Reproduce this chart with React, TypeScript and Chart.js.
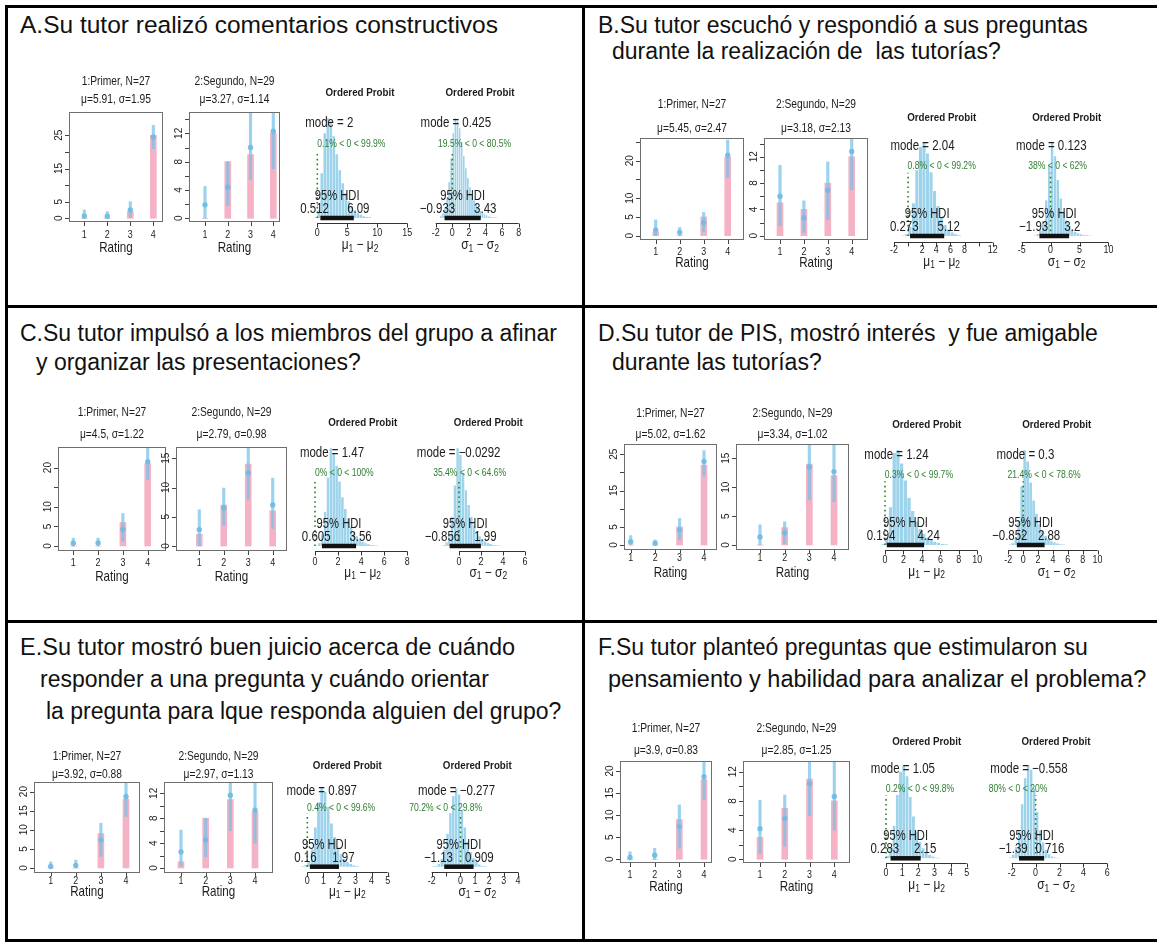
import React, { useEffect, useRef } from "react";
import { Chart, registerables } from "chart.js";

Chart.register(...registerables);

/* ====================== DATA ====================== */
const RATINGS = [1, 2, 3, 4];

// Panel A
const countsA1 = [0, 0, 2, 25];
const ppLowA1 = [0, 0, 0.3, 21];
const ppMidA1 = [0.7, 0.6, 2.5, 24.5];
const ppHighA1 = [2.5, 2, 5, 28];
const countsA2 = [0, 8, 9, 12];
const ppLowA2 = [0, 1.8, 5.5, 7];
const ppMidA2 = [1.9, 4.4, 10, 12.3];
const ppHighA2 = [4.5, 8, 16, 16];

// Panel B
const countsB1 = [1, 0, 5, 21];
const ppLowB1 = [0, 0, 1, 15.5];
const ppMidB1 = [1.5, 0.9, 3.5, 21.5];
const ppHighB1 = [4.2, 2.2, 6.2, 25.5];
const countsB2 = [5, 4, 8, 12];
const ppLowB2 = [1.5, 0.5, 2.5, 7];
const ppMidB2 = [6, 2.7, 6.9, 12.8];
const ppHighB2 = [10.7, 5.3, 11.2, 16];

// Panel C
const countsC1 = [0, 0, 6, 21];
const ppLowC1 = [0, 0, 1.2, 17];
const ppMidC1 = [0.7, 0.8, 4.2, 21.5];
const ppHighC1 = [2, 2, 8.3, 25];
const countsC2 = [2, 7, 14, 6];
const ppLowC2 = [0, 3.5, 8, 3];
const ppMidC2 = [2.8, 6.5, 12.5, 7];
const ppHighC2 = [6.2, 9.9, 17.5, 11.6];

// Panel D
const countsD1 = [0, 0, 5, 22];
const ppLowD1 = [0, 0, 1.5, 19];
const ppMidD1 = [0.9, 0.5, 4.1, 23];
const ppHighD1 = [2.6, 1.4, 7.3, 26];
const countsD2 = [0, 3, 14, 12];
const ppLowD2 = [0, 0.3, 7.8, 7.5];
const ppMidD2 = [1.4, 2.1, 13.5, 12.7];
const ppHighD2 = [3.5, 4, 18, 18];

// Panel E
const countsE1 = [0, 0, 9, 18];
const ppLowE1 = [0, 0, 3, 13.5];
const ppMidE1 = [0.4, 0.7, 7.3, 18.7];
const ppHighE1 = [1.6, 2.1, 11.7, 23];
const countsE2 = [1, 8, 11, 9];
const ppLowE2 = [0.3, 1.8, 6, 4];
const ppMidE2 = [2.6, 4.5, 11.7, 9.3];
const ppHighE2 = [6.1, 8, 14, 14];

// Panel F
const countsF1 = [0, 0, 9, 18];
const ppLowF1 = [0, 0, 2.5, 13.5];
const ppMidF1 = [0.4, 0.9, 7.4, 18.7];
const ppHighF1 = [1.7, 2.5, 12.3, 22.5];
const countsF2 = [3, 7, 11, 8];
const ppLowF2 = [0.8, 1.8, 6, 4];
const ppMidF2 = [4.2, 5.6, 10.4, 8.6];
const ppHighF2 = [8.1, 8.8, 14, 14];

// group summaries [mu1, sigma1, mu2, sigma2]
const statsA = [5.91, 1.95, 3.27, 1.14];
const statsB = [5.45, 2.47, 3.18, 2.13];
const statsC = [4.5, 1.22, 2.79, 0.98];
const statsD = [5.02, 1.62, 3.34, 1.02];
const statsE = [3.92, 0.88, 2.97, 1.13];
const statsF = [3.9, 0.83, 2.85, 1.25];

// y tick values / labelled ticks for the count plots
const yTicks25 = [0, 5, 10, 15, 20, 25];
const yTicks20 = [0, 5, 10, 15, 20];
const yTicks15 = [0, 5, 10, 15];
const yTicks14 = [0, 2, 4, 6, 8, 10, 12, 14];
const yTicks12 = [0, 2, 4, 6, 8, 10, 12];

// posterior histograms: relative heights per bin
const histA3 = [0.01, 0.08, 0.45, 0.85, 1.0, 0.97, 0.82, 0.64, 0.48, 0.35, 0.25, 0.17, 0.12, 0.08, 0.05, 0.035, 0.02, 0.012, 0.006];
const histA4 = [0.02, 0.05, 0.1, 0.2, 0.36, 0.6, 0.85, 1.0, 0.97, 0.9, 0.76, 0.62, 0.5, 0.4, 0.31, 0.24, 0.18, 0.14, 0.1, 0.075, 0.055, 0.04, 0.03, 0.02, 0.014, 0.01, 0.006, 0.004];
const histB3 = [0.005, 0.02, 0.1, 0.35, 0.7, 0.95, 1.0, 0.88, 0.68, 0.48, 0.32, 0.2, 0.12, 0.07, 0.04, 0.02, 0.01];
const histB4 = [0.005, 0.02, 0.06, 0.16, 0.38, 0.75, 1.0, 0.85, 0.6, 0.4, 0.26, 0.17, 0.11, 0.07, 0.045, 0.03, 0.02, 0.012, 0.007, 0.004];
const histC3 = [0.005, 0.03, 0.12, 0.35, 0.7, 1.0, 0.95, 0.82, 0.66, 0.5, 0.38, 0.28, 0.2, 0.14, 0.1, 0.068, 0.046, 0.03, 0.02, 0.013, 0.008, 0.005];
const histC4 = [0.01, 0.04, 0.12, 0.3, 0.62, 1.0, 0.93, 0.75, 0.57, 0.42, 0.3, 0.21, 0.15, 0.1, 0.07, 0.048, 0.032, 0.021, 0.013, 0.008, 0.005, 0.003];
const histD3 = [0.01, 0.08, 0.4, 0.97, 1.0, 0.86, 0.68, 0.5, 0.36, 0.25, 0.17, 0.12, 0.08, 0.055, 0.035, 0.022, 0.013, 0.007];
const histD4 = [0.005, 0.02, 0.08, 0.25, 0.62, 1.0, 0.88, 0.66, 0.47, 0.33, 0.22, 0.15, 0.1, 0.065, 0.042, 0.027, 0.017, 0.01, 0.006];
const histE3 = [0.005, 0.02, 0.07, 0.22, 0.5, 0.82, 1.0, 0.95, 0.76, 0.55, 0.38, 0.25, 0.16, 0.1, 0.06, 0.035, 0.02, 0.01];
const histE4 = [0.005, 0.015, 0.04, 0.1, 0.22, 0.42, 0.68, 0.9, 1.0, 0.92, 0.72, 0.5, 0.32, 0.19, 0.11, 0.06, 0.03, 0.015, 0.007];
const histF3 = [0.005, 0.03, 0.12, 0.35, 0.68, 0.93, 1.0, 0.88, 0.66, 0.45, 0.29, 0.18, 0.11, 0.065, 0.038, 0.021, 0.011, 0.006];
const histF4 = [0.01, 0.04, 0.12, 0.3, 0.58, 0.86, 1.0, 0.95, 0.75, 0.5, 0.3, 0.17, 0.09, 0.045, 0.022, 0.01, 0.005];

// posterior summaries: [mode, hdiLow, hdiHigh, percent below 0]
const postA3 = [2, 0.512, 6.09, 0.1];
const postA4 = [0.425, -0.933, 3.43, 19.5];
const postB3 = [2.04, 0.273, 5.12, 0.8];
const postB4 = [0.123, -1.93, 3.2, 38];
const postC3 = [1.47, 0.605, 3.56, 0];
const postC4 = [-0.0292, -0.856, 1.99, 35.4];
const postD3 = [1.24, 0.194, 4.24, 0.3];
const postD4 = [0.3, -0.852, 2.88, 21.4];
const postE3 = [0.897, 0.16, 1.97, 0.4];
const postE4 = [-0.277, -1.13, 0.909, 70.2];
const postF3 = [1.05, 0.283, 2.15, 0.2];
const postF4 = [-0.558, -1.39, 0.716, 80];

// histogram axis ticks / labels
const ticksA3 = [0, 5, 10, 15];
const ticksA4 = [-2, 0, 2, 4, 6, 8];
const ticksB3 = [-2, 0, 2, 4, 6, 8, 10, 12];
const labelsB3 = [-2, 2, 4, 6, 8, 12];
const ticksB4 = [-5, 0, 5, 10];
const ticksC3 = [0, 2, 4, 6, 8];
const ticksC4 = [0, 2, 4, 6];
const ticksD3 = [0, 2, 4, 6, 8, 10];
const ticksD4 = [-2, 0, 2, 4, 6, 8, 10];
const ticksE3 = [0, 1, 2, 3, 4, 5];
const ticksE4 = [-2, -1, 0, 1, 2, 3, 4];
const labelsE4 = [-2, 0, 1, 2, 3, 4];
const ticksF3 = [0, 1, 2, 3, 4, 5];
const ticksF4 = [-2, 0, 2, 4, 6];

const PANEL_TITLES = [
  { x: 20, y: 34, size: 24.5, text: "A.Su tutor realizó comentarios constructivos" },
  { x: 598, y: 34, size: 23, text: "B.Su tutor escuchó y respondió a sus preguntas" },
  { x: 612, y: 60, size: 23, text: "durante la realización de  las tutorías?" },
  { x: 20, y: 342, size: 23, text: "C.Su tutor impulsó a los miembros del grupo a afinar" },
  { x: 36, y: 371, size: 23, text: "y organizar las presentaciones?" },
  { x: 598, y: 342, size: 23, text: "D.Su tutor de PIS, mostró interés  y fue amigable" },
  { x: 612, y: 371, size: 23, text: "durante las tutorías?" },
  { x: 20, y: 656, size: 23.5, text: "E.Su tutor mostró buen juicio acerca de cuándo" },
  { x: 40, y: 688, size: 23, text: "responder a una pregunta y cuándo orientar" },
  { x: 46, y: 720, size: 23, text: "la pregunta para lque responda alguien del grupo?" },
  { x: 598, y: 656, size: 23, text: "F.Su tutor planteó preguntas que estimularon su" },
  { x: 608, y: 688, size: 23.5, text: "pensamiento y habilidad para analizar el problema?" },
];

/* ====================== STYLE ====================== */
const FONT = "'Liberation Sans', Arial, Helvetica, sans-serif";
const PINK = "rgb(245,178,196)";
const BLUE_LINE = "rgba(118,192,230,0.72)";
const BLUE_DOT = "rgba(112,188,228,0.92)";
const HIST_FILL = "rgb(158,211,236)";
const GREEN = "#2f7d2f";
const INK = "#1c1c1c";
const BOX = "#6e6e6e";

/* ====================== LAYOUT ====================== */
type BarSpec = {
  x0: number; x1: number; y0: number; y1: number;
  px1: number; px4: number; p0: number; ppu: number;
  t1Y: number; t2Y: number; tickY: number; labY: number; tickLen: number;
  yTicks: number[]; yLabels: number[];
  title: string; mu: number; sd: number;
  counts: number[]; lo: number[]; mid: number[]; hi: number[];
};

type HistSpec = {
  cx: number; titleY: number; t0px: number; ppu: number;
  base: number; H: number; axisY: number; tickLabY: number; axLabY: number;
  ticks: number[]; tickLabels: number[];
  start: number; width: number; heights: number[];
  post: number[]; sym: string;
};

const G1 = "1:Primer, N=27";
const G2 = "2:Segundo, N=29";

const BAR_SPECS: BarSpec[] = [
  { x0: 69, x1: 163, y0: 112, y1: 222, px1: 84.3, px4: 153.3, p0: 218.3, ppu: 3.32, t1Y: 82, t2Y: 100, tickY: 235, labY: 248, tickLen: 4, yTicks: yTicks25, yLabels: [0, 5, 15, 25], title: G1, mu: statsA[0], sd: statsA[1], counts: countsA1, lo: ppLowA1, mid: ppMidA1, hi: ppHighA1 },
  { x0: 189, x1: 280, y0: 112, y1: 222, px1: 205, px4: 273.3, p0: 218.3, ppu: 7.08, t1Y: 82, t2Y: 100, tickY: 235, labY: 248, tickLen: 4, yTicks: yTicks14, yLabels: [0, 4, 8, 12], title: G2, mu: statsA[2], sd: statsA[3], counts: countsA2, lo: ppLowA2, mid: ppMidA2, hi: ppHighA2 },
  { x0: 640, x1: 744, y0: 138, y1: 240, px1: 655.7, px4: 727.7, p0: 235.7, ppu: 3.75, t1Y: 105, t2Y: 129, tickY: 252, labY: 263, tickLen: 4, yTicks: yTicks25, yLabels: [0, 5, 10, 20], title: G1, mu: statsB[0], sd: statsB[1], counts: countsB1, lo: ppLowB1, mid: ppMidB1, hi: ppHighB1 },
  { x0: 764, x1: 868, y0: 138, y1: 240, px1: 780, px4: 851.7, p0: 235.7, ppu: 6.58, t1Y: 105, t2Y: 129, tickY: 252, labY: 263, tickLen: 4, yTicks: yTicks14, yLabels: [0, 4, 8, 12], title: G2, mu: statsB[2], sd: statsB[3], counts: countsB2, lo: ppLowB2, mid: ppMidB2, hi: ppHighB2 },
  { x0: 58, x1: 166, y0: 447, y1: 551, px1: 73.3, px4: 147.7, p0: 546, ppu: 3.92, t1Y: 413, t2Y: 435, tickY: 563, labY: 577, tickLen: 4, yTicks: yTicks20, yLabels: [0, 5, 10, 20], title: G1, mu: statsC[0], sd: statsC[1], counts: countsC1, lo: ppLowC1, mid: ppMidC1, hi: ppHighC1 },
  { x0: 176, x1: 287, y0: 447, y1: 551, px1: 199.3, px4: 272.7, p0: 546, ppu: 5.85, t1Y: 413, t2Y: 435, tickY: 563, labY: 577, tickLen: 4, yTicks: yTicks15, yLabels: yTicks15, title: G2, mu: statsC[2], sd: statsC[3], counts: countsC2, lo: ppLowC2, mid: ppMidC2, hi: ppHighC2 },
  { x0: 624, x1: 717, y0: 444, y1: 550, px1: 630.7, px4: 704, p0: 545, ppu: 3.63, t1Y: 414, t2Y: 435, tickY: 558, labY: 573, tickLen: 3, yTicks: yTicks25, yLabels: [0, 5, 15, 25], title: G1, mu: statsD[0], sd: statsD[1], counts: countsD1, lo: ppLowD1, mid: ppMidD1, hi: ppHighD1 },
  { x0: 736, x1: 849, y0: 444, y1: 550, px1: 760, px4: 834, p0: 545, ppu: 5.78, t1Y: 414, t2Y: 435, tickY: 558, labY: 573, tickLen: 3, yTicks: yTicks15, yLabels: yTicks15, title: G2, mu: statsD[2], sd: statsD[3], counts: countsD2, lo: ppLowD2, mid: ppMidD2, hi: ppHighD2 },
  { x0: 34, x1: 140, y0: 782, y1: 873, px1: 50.7, px4: 126, p0: 868, ppu: 3.82, t1Y: 757, t2Y: 775, tickY: 881, labY: 892, tickLen: 3, yTicks: yTicks20, yLabels: yTicks20, title: G1, mu: statsE[0], sd: statsE[1], counts: countsE1, lo: ppLowE1, mid: ppMidE1, hi: ppHighE1 },
  { x0: 164, x1: 273, y0: 782, y1: 873, px1: 181, px4: 255, p0: 868, ppu: 6.22, t1Y: 757, t2Y: 775, tickY: 881, labY: 892, tickLen: 3, yTicks: yTicks12, yLabels: [0, 4, 8, 12], title: G2, mu: statsE[2], sd: statsE[3], counts: countsE2, lo: ppLowE2, mid: ppMidE2, hi: ppHighE2 },
  { x0: 620, x1: 712, y0: 761, y1: 863, px1: 630, px4: 704, p0: 859.3, ppu: 4.42, t1Y: 729, t2Y: 751, tickY: 875, labY: 887, tickLen: 4, yTicks: yTicks20, yLabels: yTicks20, title: G1, mu: statsF[0], sd: statsF[1], counts: countsF1, lo: ppLowF1, mid: ppMidF1, hi: ppHighF1 },
  { x0: 743, x1: 850, y0: 761, y1: 863, px1: 760, px4: 834.3, p0: 859.3, ppu: 7.3, t1Y: 729, t2Y: 751, tickY: 875, labY: 887, tickLen: 4, yTicks: yTicks12, yLabels: [0, 4, 8, 12], title: G2, mu: statsF[2], sd: statsF[3], counts: countsF2, lo: ppLowF2, mid: ppMidF2, hi: ppHighF2 },
];

const MU = "\u03bc";
const SIG = "\u03c3";

const HIST_SPECS: HistSpec[] = [
  { cx: 360, titleY: 93, t0px: 317.3, ppu: 6, base: 218, H: 100, axisY: 223, tickLabY: 233, axLabY: 245, ticks: ticksA3, tickLabels: ticksA3, start: -0.5, width: 0.5, heights: histA3, post: postA3, sym: MU },
  { cx: 480, titleY: 93, t0px: 435.7, ppu: 8.3, base: 218, H: 100, axisY: 223, tickLabY: 233, axLabY: 245, ticks: ticksA4, tickLabels: ticksA4, start: -1.5, width: 0.25, heights: histA4, post: postA4, sym: SIG },
  { cx: 941.7, titleY: 118, t0px: 894, ppu: 7.05, base: 236, H: 94, axisY: 241.7, tickLabY: 250, axLabY: 261.7, ticks: ticksB3, tickLabels: labelsB3, start: -1, width: 0.5, heights: histB3, post: postB3, sym: MU },
  { cx: 1066.7, titleY: 118, t0px: 1021.7, ppu: 5.78, base: 236, H: 94, axisY: 241.7, tickLabY: 250, axLabY: 261.7, ticks: ticksB4, tickLabels: ticksB4, start: -3, width: 0.5, heights: histB4, post: postB4, sym: SIG },
  { cx: 362.7, titleY: 423.3, t0px: 315, ppu: 11.54, base: 546, H: 98, axisY: 550.7, tickLabY: 561.7, axLabY: 572.7, ticks: ticksC3, tickLabels: ticksC3, start: 0, width: 0.25, heights: histC3, post: postC3, sym: MU },
  { cx: 488.3, titleY: 423.3, t0px: 459, ppu: 11, base: 546, H: 98, axisY: 550.7, tickLabY: 561.7, axLabY: 572.7, ticks: ticksC4, tickLabels: ticksC4, start: -1.5, width: 0.25, heights: histC4, post: postC4, sym: SIG },
  { cx: 926.7, titleY: 425, t0px: 885, ppu: 9.23, base: 545, H: 95, axisY: 550, tickLabY: 560, axLabY: 571.7, ticks: ticksD3, tickLabels: ticksD3, start: -0.4, width: 0.4, heights: histD3, post: postD3, sym: MU },
  { cx: 1056.7, titleY: 425, t0px: 1008.3, ppu: 7.44, base: 545, H: 95, axisY: 550, tickLabY: 560, axLabY: 571.7, ticks: ticksD4, tickLabels: ticksD4, start: -2, width: 0.4, heights: histD4, post: postD4, sym: SIG },
  { cx: 347.3, titleY: 766, t0px: 307.3, ppu: 16.07, base: 866.7, H: 78.5, axisY: 872.3, tickLabY: 880.7, axLabY: 891.7, ticks: ticksE3, tickLabels: ticksE3, start: -0.4, width: 0.2, heights: histE3, post: postE3, sym: MU },
  { cx: 477.3, titleY: 766, t0px: 431.7, ppu: 14.4, base: 866.7, H: 78.5, axisY: 872.3, tickLabY: 880.7, axLabY: 891.7, ticks: ticksE4, tickLabels: labelsE4, start: -2, width: 0.2, heights: histE4, post: postE4, sym: SIG },
  { cx: 926.7, titleY: 741.7, t0px: 886, ppu: 16.13, base: 858.3, H: 93, axisY: 863.3, tickLabY: 873.3, axLabY: 885, ticks: ticksF3, tickLabels: ticksF3, start: -0.2, width: 0.2, heights: histF3, post: postF3, sym: MU },
  { cx: 1056, titleY: 741.7, t0px: 1011.7, ppu: 11.95, base: 858.3, H: 93, axisY: 863.3, tickLabY: 873.3, axLabY: 885, ticks: ticksF4, tickLabels: ticksF4, start: -2.25, width: 0.25, heights: histF4, post: postF4, sym: SIG },
];

/* ====================== HELPERS ====================== */
function txt(
  ctx: CanvasRenderingContext2D, s: string, x: number, y: number, font: string,
  color: string, frac = 0.5, hs = 0.82, rot = 0, baseline: CanvasTextBaseline = "middle"
) {
  ctx.save();
  ctx.font = font;
  ctx.fillStyle = color;
  ctx.textBaseline = baseline;
  ctx.textAlign = "left";
  ctx.translate(x, y);
  if (rot) ctx.rotate(rot);
  ctx.scale(hs, 1);
  const w = ctx.measureText(s).width;
  ctx.fillText(s, -w * frac, 0);
  ctx.restore();
}

const fmtMath = (v: number) => (v < 0 ? "\u2212" : "") + String(Math.abs(v));
const fmtPct = (v: number) => String(+v.toFixed(1));

function drawAxisLabel(ctx: CanvasRenderingContext2D, sym: string, cx: number, cy: number) {
  const big = `14px ${FONT}`;
  const small = `10px ${FONT}`;
  const hs = 0.85;
  const parts: [string, string, number][] = [
    [sym, big, 0], ["1", small, 4], [" \u2212 ", big, 0], [sym, big, 0], ["2", small, 4],
  ];
  ctx.save();
  ctx.textBaseline = "middle";
  ctx.textAlign = "left";
  ctx.fillStyle = INK;
  const widths = parts.map((p) => { ctx.font = p[1]; return ctx.measureText(p[0]).width * hs; });
  const total = widths.reduce((a, b) => a + b, 0);
  let x = cx - total / 2;
  parts.forEach((p, i) => {
    ctx.save();
    ctx.font = p[1];
    ctx.translate(x, cy + p[2]);
    ctx.scale(hs, 1);
    ctx.fillText(p[0], 0, 0);
    ctx.restore();
    x += widths[i];
  });
  ctx.restore();
}

/* ====================== COUNT PLOTS ====================== */
function BarPlot({ spec }: { spec: BarSpec }) {
  const ref = useRef<HTMLCanvasElement>(null);
  const L = Math.round(spec.x0 - 30);
  const R = Math.round(spec.x1 + 8);
  const T = Math.round(spec.t1Y - 12);
  const B = Math.round(spec.labY + 12);
  const W = R - L;
  const Hh = B - T;
  useEffect(() => {
    const canvas = ref.current;
    if (!canvas) return;
    const s = spec;
    const ppx = (s.px4 - s.px1) / 3;
    const xmin = 1 - (s.px1 - s.x0) / ppx;
    const xmax = 4 + (s.x1 - s.px4) / ppx;
    const ymin = -(s.y1 - s.p0) / s.ppu;
    const ymax = (s.p0 - s.y0) / s.ppu;
    const decor = {
      id: "rdecor",
      afterDatasetsDraw(chart: any) {
        const ctx: CanvasRenderingContext2D = chart.ctx;
        const a = chart.chartArea;
        const xs = chart.scales.x;
        const ys = chart.scales.y;
        ctx.save();
        ctx.strokeStyle = BOX;
        ctx.lineWidth = 1;
        ctx.strokeRect(a.left + 0.5, a.top + 0.5, a.right - a.left - 1, a.bottom - a.top - 1);
        ctx.strokeStyle = "#444";
        ctx.beginPath();
        RATINGS.forEach((r) => {
          const px = Math.round(xs.getPixelForValue(r)) + 0.5;
          ctx.moveTo(px, a.bottom);
          ctx.lineTo(px, a.bottom + s.tickLen);
        });
        s.yTicks.forEach((v) => {
          const py = Math.round(ys.getPixelForValue(v)) + 0.5;
          ctx.moveTo(a.left - 4, py);
          ctx.lineTo(a.left, py);
        });
        ctx.stroke();
        ctx.restore();
        RATINGS.forEach((r) =>
          txt(ctx, String(r), xs.getPixelForValue(r), s.tickY - T, `10.5px ${FONT}`, INK, 0.5, 0.85)
        );
        s.yLabels.forEach((v) =>
          txt(ctx, String(v), a.left - 10, ys.getPixelForValue(v), `10px ${FONT}`, INK, 0.5, 1, -Math.PI / 2)
        );
        const cx = (a.left + a.right) / 2;
        txt(ctx, s.title, cx, s.t1Y - T, `12.5px ${FONT}`, INK, 0.5, 0.82);
        txt(ctx, `${MU}=${s.mu}, ${SIG}=${s.sd}`, cx, s.t2Y - T, `12.5px ${FONT}`, INK, 0.5, 0.82);
        txt(ctx, "Rating", cx, s.labY - T, `14.5px ${FONT}`, INK, 0.5, 0.8);
      },
    };
    const chart = new Chart(canvas, {
      type: "bar",
      data: {
        datasets: [
          {
            type: "bar",
            label: "datos",
            data: RATINGS.map((r, i) => ({ x: r, y: s.counts[i] })) as any,
            backgroundColor: PINK,
            barThickness: 6,
            grouped: false,
            order: 3,
          } as any,
          {
            type: "bar",
            label: "predicción",
            data: RATINGS.map((r, i) => ({ x: r, y: [s.lo[i], s.hi[i]] })) as any,
            backgroundColor: BLUE_LINE,
            barThickness: 2.5,
            grouped: false,
            order: 2,
          } as any,
          {
            type: "scatter",
            label: "media",
            data: RATINGS.map((r, i) => ({ x: r, y: s.mid[i] })),
            backgroundColor: BLUE_DOT,
            borderWidth: 0,
            pointRadius: 2.7,
            order: 1,
          } as any,
        ],
      },
      options: {
        responsive: false,
        animation: false,
        events: [],
        layout: { padding: { left: s.x0 - L, right: R - s.x1, top: s.y0 - T, bottom: B - s.y1 } },
        plugins: { legend: { display: false }, tooltip: { enabled: false } },
        scales: {
          x: { type: "linear", min: xmin, max: xmax, offset: false, display: false },
          y: { type: "linear", min: ymin, max: ymax, display: false },
        },
      } as any,
      plugins: [decor],
    });
    return () => chart.destroy();
  }, []);
  return (
    <canvas
      ref={ref}
      width={W}
      height={Hh}
      style={{ position: "absolute", left: L, top: T, width: W, height: Hh }}
    />
  );
}

/* ====================== POSTERIOR HISTOGRAMS ====================== */
function HistPlot({ spec }: { spec: HistSpec }) {
  const ref = useRef<HTMLCanvasElement>(null);
  const L = Math.round(spec.cx - 90);
  const R = Math.round(spec.cx + 90);
  const T = Math.round(spec.titleY - 12);
  const B = Math.round(spec.axLabY + 12);
  const W = R - L;
  const Hh = B - T;
  useEffect(() => {
    const canvas = ref.current;
    if (!canvas) return;
    const s = spec;
    const topPx = Math.round(s.base - s.H);
    const botPx = Math.round(s.axisY);
    const t0 = s.ticks[0];
    const xmin = t0 - (s.t0px - L) / s.ppu;
    const xmax = t0 + (R - s.t0px) / s.ppu;
    const ymin = -(botPx - s.base) / (s.base - topPx);
    const [mode, hLo, hHi, pLt] = s.post;
    const decor = {
      id: "hdecor",
      afterDatasetsDraw(chart: any) {
        const ctx: CanvasRenderingContext2D = chart.ctx;
        const xs = chart.scales.x;
        const ys = chart.scales.y;
        const X = (v: number) => xs.getPixelForValue(v);
        const Y = (v: number) => ys.getPixelForValue(v);
        const y0 = Y(0);
        txt(ctx, "Ordered Probit", s.cx - L, s.titleY - T, `bold 11.5px ${FONT}`, INK, 0.5, 0.85);
        ctx.save();
        ctx.strokeStyle = GREEN;
        ctx.lineWidth = 1.6;
        ctx.setLineDash([1.6, 3.2]);
        ctx.beginPath();
        ctx.moveTo(X(0), y0);
        ctx.lineTo(X(0), Y(0.672));
        ctx.stroke();
        ctx.restore();
        txt(ctx, `mode = ${fmtMath(mode)}`, X(mode), Y(0.9) - 1, `14px ${FONT}`, INK, 0.5, 0.82, 0, "alphabetic");
        txt(ctx, `${fmtPct(pLt)}% < 0 < ${fmtPct(100 - pLt)}%`, X(0), Y(0.7) - 1, `11px ${FONT}`, GREEN, pLt / 100, 0.78, 0, "alphabetic");
        ctx.save();
        ctx.strokeStyle = "#111";
        ctx.lineWidth = 4.5;
        ctx.lineCap = "butt";
        ctx.beginPath();
        ctx.moveTo(X(hLo), y0);
        ctx.lineTo(X(hHi), y0);
        ctx.stroke();
        ctx.restore();
        txt(ctx, "95% HDI", X((hLo + hHi) / 2), y0 - 18, `14px ${FONT}`, INK, 0.5, 0.8, 0, "alphabetic");
        txt(ctx, fmtMath(hLo), X(hLo), y0 - 5, `14px ${FONT}`, INK, 0.7, 0.82, 0, "alphabetic");
        txt(ctx, fmtMath(hHi), X(hHi), y0 - 5, `14px ${FONT}`, INK, 0.3, 0.82, 0, "alphabetic");
        const ay = Math.round(s.axisY - T) + 0.5;
        ctx.save();
        ctx.strokeStyle = "#333";
        ctx.lineWidth = 1;
        ctx.beginPath();
        ctx.moveTo(X(s.ticks[0]), ay);
        ctx.lineTo(X(s.ticks[s.ticks.length - 1]), ay);
        s.ticks.forEach((v) => {
          const px = Math.round(X(v)) + 0.5;
          ctx.moveTo(px, ay);
          ctx.lineTo(px, ay + 4);
        });
        ctx.stroke();
        ctx.restore();
        s.tickLabels.forEach((v) =>
          txt(ctx, String(v), X(v), s.tickLabY - T, `10.5px ${FONT}`, INK, 0.5, 0.85)
        );
        drawAxisLabel(ctx, s.sym, s.cx - L, s.axLabY - T);
      },
    };
    const chart = new Chart(canvas, {
      type: "bar",
      data: {
        datasets: [
          {
            label: "posterior",
            data: s.heights.map((h, i) => ({ x: s.start + s.width * (i + 0.5), y: h })) as any,
            backgroundColor: HIST_FILL,
            borderColor: "rgba(255,255,255,0.45)",
            borderWidth: 0.5,
            borderSkipped: "bottom",
            barPercentage: 1,
            categoryPercentage: 1,
          } as any,
        ],
      },
      options: {
        responsive: false,
        animation: false,
        events: [],
        layout: { padding: { left: 0, right: 0, top: topPx - T, bottom: B - botPx } },
        plugins: { legend: { display: false }, tooltip: { enabled: false } },
        scales: {
          x: { type: "linear", min: xmin, max: xmax, offset: false, display: false },
          y: { type: "linear", min: ymin, max: 1, display: false },
        },
      } as any,
      plugins: [decor],
    });
    return () => chart.destroy();
  }, []);
  return (
    <canvas
      ref={ref}
      width={W}
      height={Hh}
      style={{ position: "absolute", left: L, top: T, width: W, height: Hh }}
    />
  );
}

/* ====================== PAGE ====================== */
const RULES = [
  { left: 5, top: 5, width: 1152, height: 3 },
  { left: 5, top: 5, width: 3, height: 937 },
  { left: 582, top: 5, width: 3, height: 937 },
  { left: 5, top: 305, width: 1152, height: 3 },
  { left: 5, top: 620, width: 1152, height: 3 },
  { left: 5, top: 939, width: 1152, height: 3 },
];

export default function App() {
  return (
    <div
      style={{
        position: "absolute",
        left: 0,
        top: 0,
        width: 1157,
        height: 943,
        background: "#fff",
        overflow: "hidden",
        fontFamily: FONT,
      }}
    >
      {RULES.map((r, i) => (
        <div key={"r" + i} style={{ position: "absolute", background: "#000", ...r }} />
      ))}
      {PANEL_TITLES.map((t, i) => (
        <div
          key={"t" + i}
          style={{
            position: "absolute",
            left: t.x,
            top: t.y - t.size * 0.85,
            fontSize: t.size,
            lineHeight: `${t.size}px`,
            whiteSpace: "pre",
            color: "#111",
            fontFamily: FONT,
          }}
        >
          {t.text}
        </div>
      ))}
      {BAR_SPECS.map((s, i) => (
        <BarPlot key={"b" + i} spec={s} />
      ))}
      {HIST_SPECS.map((s, i) => (
        <HistPlot key={"h" + i} spec={s} />
      ))}
    </div>
  );
}
